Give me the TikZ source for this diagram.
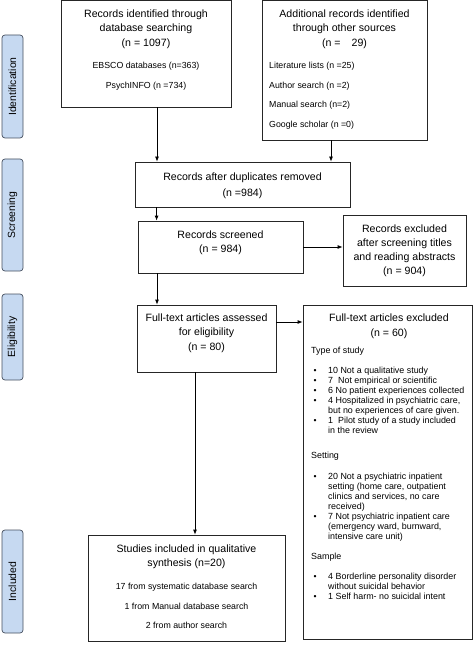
\documentclass[tikz,border=0pt]{standalone}
\usepackage{fontspec}
\setmainfont{Liberation Sans}
\usetikzlibrary{arrows.meta}
\definecolor{phase}{RGB}{198,217,241}
\definecolor{phaseline}{RGB}{70,80,95}
\begin{document}
\begin{tikzpicture}[x=1pt,y=-1pt,
  box/.style={draw=black!85,line width=0.8pt,inner sep=0pt},
  phasebox/.style={draw=phaseline,fill=phase,rounded corners=3pt,line width=0.7pt,inner sep=0pt,minimum width=21pt},
  phasetext/.style={rotate=90,font=\fontsize{10.4}{12}\selectfont,inner sep=0pt},
  T/.style={font=\fontsize{10.6}{12}\selectfont,anchor=base,inner sep=0pt},
  S/.style={font=\fontsize{8.8}{10}\selectfont,anchor=base,inner sep=0pt},
  SL/.style={font=\fontsize{8.8}{10}\selectfont,anchor=base west,inner sep=0pt},
  IL/.style={font=\fontsize{8.9}{10}\selectfont,anchor=base west,inner sep=0pt},
  BL/.style={font=\fontsize{8.6}{10}\selectfont,anchor=base,inner sep=0pt},
  arr/.style={-{Latex[length=5pt,width=4pt]},line width=0.8pt}]
\useasboundingbox (0,0) rectangle (473,652);

% phase labels
\node[phasebox,minimum height=103pt] (p1) at (12.5,86.5) {};
\node[phasetext] (p1t) at (p1.center) {Identification};
\node[phasebox,minimum height=112pt] (p2) at (12.5,215) {};
\node[phasetext] (p2t) at (p2.center) {Screening};
\node[phasebox,minimum height=86pt] (p3) at (12.5,337) {};
\node[phasetext] (p3t) at (p3.center) {Eligibility};
\node[phasebox,minimum height=103pt] (p4) at (12.5,581.5) {};
\node[phasetext] (p4t) at (p4.center) {Included};

% boxes
\node[box,minimum width=170pt,minimum height=106.5pt] (A) at (146,53.75) {};
\node[box,minimum width=165pt,minimum height=139.5pt] (B) at (344.5,70.25) {};
\node[box,minimum width=215pt,minimum height=45pt] (C) at (242.5,184.5) {};
\node[box,minimum width=165pt,minimum height=52pt] (D) at (220.5,247) {};
\node[box,minimum width=123pt,minimum height=71pt] (E) at (404.5,250.5) {};
\node[box,minimum width=139pt,minimum height=67pt] (F) at (206.5,338.5) {};
\node[box,minimum width=169pt,minimum height=334pt] (G) at (387.5,472) {};
\node[box,minimum width=197pt,minimum height=106pt] (H) at (186.5,588) {};

% box A text
\node[T] (a1) at (146,17.8) {Records identified through};
\node[T] (a2) at (146,31.8) {database searching};
\node[T] (a3) at (146,46.3) {(n = 1097)};
\node[S] (a4) at (146,68.2) {EBSCO databases (n=363)};
\node[S] (a5) at (146,88.2) {PsychINFO (n =734)};

% box B text
\node[T] (b1) at (344.5,17.8) {Additional records identified};
\node[T] (b2) at (344.5,31.8) {through other sources};
\node[T] (b3) at (344.5,46.8) {(n =\hspace{11pt}29)};
\node[SL] (b4) at (269,68.2) {Literature lists (n =25)};
\node[SL] (b5) at (269,88.2) {Author search (n =2)};
\node[SL] (b6) at (269,107.2) {Manual search (n=2)};
\node[SL] (b7) at (269,127.2) {Google scholar (n =0)};

% box C text
\node[T] (c1) at (242.5,180.8) {Records after duplicates removed};
\node[T] (c2) at (242.5,196.8) {(n =984)};

% box D text
\node[T] (d1) at (220.5,238.8) {Records screened};
\node[T] (d2) at (220.5,252.8) {(n = 984)};

% box E text
\node[T] (e1) at (404.5,232.8) {Records excluded};
\node[T] (e2) at (404.5,246.8) {after screening titles};
\node[T] (e3) at (404.5,260.8) {and reading abstracts};
\node[T] (e4) at (404.5,274.8) {(n = 904)};

% box F text
\node[T] (f1) at (206.5,321.8) {Full-text articles assessed};
\node[T] (f2) at (206.5,335.8) {for eligibility};
\node[T] (f3) at (206.5,350.8) {(n = 80)};

% box G text
\node[T] (g1) at (389,321.8) {Full-text articles excluded};
\node[T] (g2) at (389,336.8) {(n = 60)};
\node[IL] (g3) at (311,353) {Type of study};
\node[BL] (gb1) at (315,373) {•};
\node[IL] (g4) at (328,373) {10 Not a qualitative study};
\node[BL] (gb2) at (315,383) {•};
\node[IL] (g5) at (328,383) {7\hspace{5pt}Not empirical or scientific};
\node[BL] (gb3) at (315,393) {•};
\node[IL] (g6) at (328,393) {6 No patient experiences collected};
\node[BL] (gb4) at (315,403) {•};
\node[IL] (g7) at (328,403) {4 Hospitalized in psychiatric care,};
\node[IL] (g8) at (328,413) {but no experiences of care given.};
\node[BL] (gb5) at (315,423) {•};
\node[IL] (g9) at (328,423) {1\hspace{5pt}Pilot study of a study included};
\node[IL] (g10) at (328,433) {in the review};
\node[IL] (g11) at (311,458) {Setting};
\node[BL] (gb6) at (315,479) {•};
\node[IL] (g12) at (328,479) {20 Not a psychiatric inpatient};
\node[IL] (g13) at (328,489) {setting (home care, outpatient};
\node[IL] (g14) at (328,499) {clinics and services, no care};
\node[IL] (g15) at (328,509) {received)};
\node[BL] (gb7) at (315,519) {•};
\node[IL] (g16) at (328,519) {7 Not psychiatric inpatient care};
\node[IL] (g17) at (328,529) {(emergency ward, burnward,};
\node[IL] (g18) at (328,539) {intensive care unit)};
\node[IL] (g19) at (311,559) {Sample};
\node[BL] (gb8) at (315,579) {•};
\node[IL] (g20) at (328,579) {4 Borderline personality disorder};
\node[IL] (g21) at (328,589) {without suicidal behavior};
\node[BL] (gb9) at (315,599) {•};
\node[IL] (g22) at (328,599) {1 Self harm- no suicidal intent};

% box H text
\node[T] (h1) at (186.5,552.8) {Studies included in qualitative};
\node[T] (h2) at (186.5,566.8) {synthesis (n=20)};
\node[S] (h3) at (186.5,589.2) {17 from systematic database search};
\node[S] (h4) at (186.5,609.2) {1 from Manual database search};
\node[S] (h5) at (186.5,628.2) {2 from author search};

% connectors
\draw[arr] ([xshift=11pt]A.south) -- ([xshift=11pt]A.south |- C.north);
\draw[arr] ([xshift=-13.5pt]B.south) -- ([xshift=-13.5pt]B.south |- C.north);
\draw[arr] (C.south -| D.west) ++(19pt,0) coordinate (cs) -- (cs |- D.north);
\draw[arr] (D.east) -- (D.east -| E.west);
\draw[arr] ([xshift=-63.5pt]D.south) -- ([xshift=-63.5pt]D.south |- F.north);
\draw[arr] ([yshift=16.5pt]F.east) -- ([yshift=16.5pt]F.east -| G.west);
\draw[arr] ([xshift=-11.5pt]F.south) -- ([xshift=-11.5pt]F.south |- H.north);
\end{tikzpicture}
\end{document}
